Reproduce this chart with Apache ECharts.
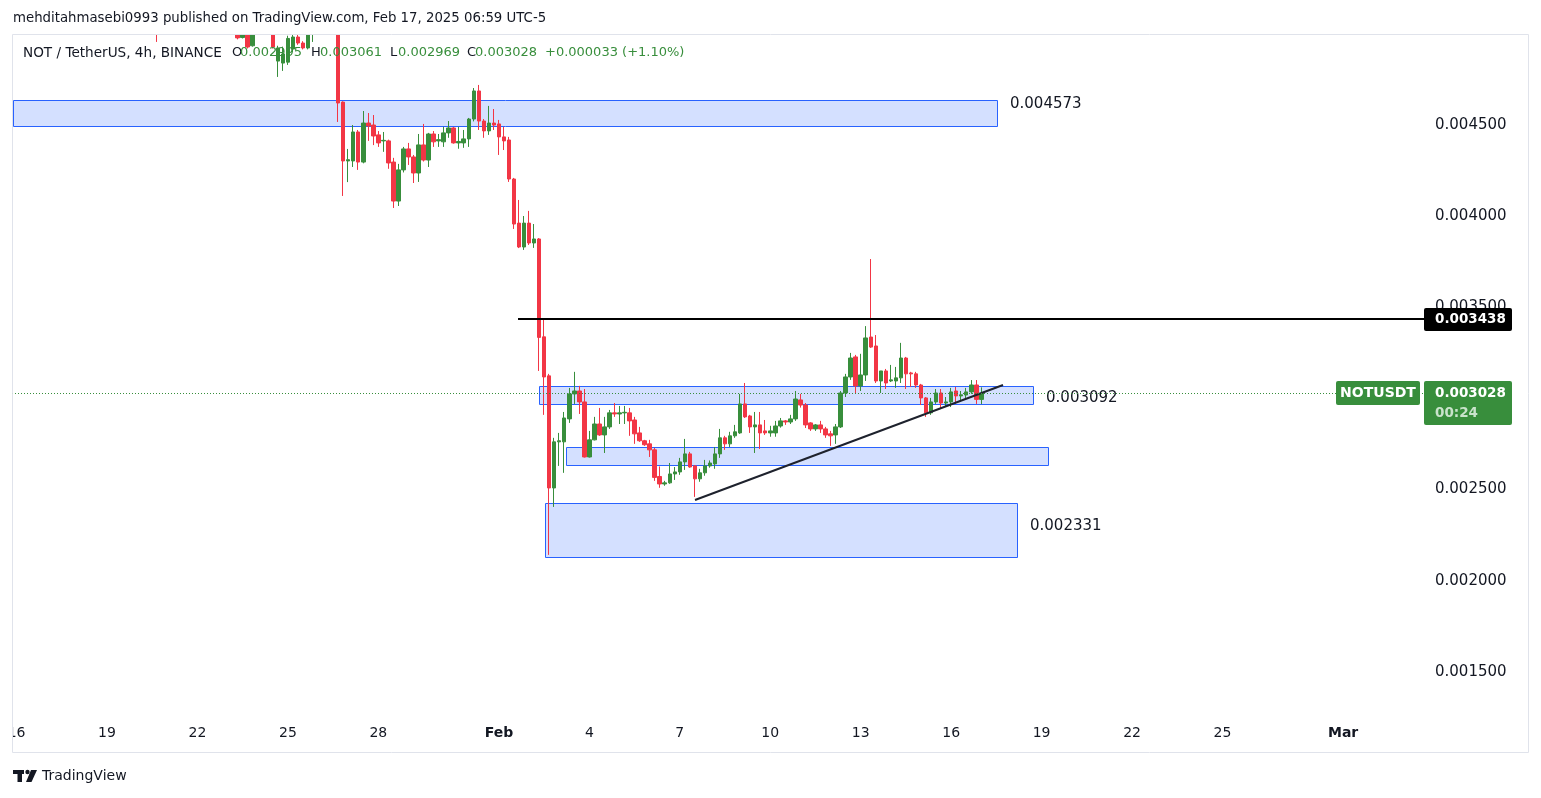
<!DOCTYPE html>
<html>
<head>
<meta charset="utf-8">
<title>NOT / TetherUS 4h</title>
<script src="https://cdn.jsdelivr.net/npm/echarts@6.0.0/dist/echarts.min.js"></script>
<style>
html,body{margin:0;padding:0;background:#ffffff;}
#chart{width:1541px;height:798px;}
</style>
</head>
<body>
<div id="chart"></div>
<script>
// ---------- time scale (4h slots) ----------
const axisStartTime = '2025-01-15 20:00';
const slotCount = 282;
const barHours = 4;

// ---------- tick labels ----------
const xTickDates = ['2025-01-16','2025-01-19','2025-01-22','2025-01-25','2025-01-28','2025-02-01','2025-02-04','2025-02-07','2025-02-10','2025-02-13','2025-02-16','2025-02-19','2025-02-22','2025-02-25','2025-03-01'];
const xTickLabels = ['16','19','22','25','28','Feb','4','7','10','13','16','19','22','25','Mar'];
const yTickValues = [0.0015, 0.002, 0.0025, 0.003, 0.0035, 0.004, 0.0045];
const yMin = 0.001258;
const yMax = 0.004994;

// ---------- candles (NOTUSDT, 4h) ----------
const candleStart = '2025-01-20 16:00';
const open = [
  0.005150, null,null,null,null,null,null,null,null,null,null,null,null,null,null,null,
  0.005060, 0.004980, 0.005040, 0.004935, null,null,null,
  0.005040, 0.004851, 0.004840, 0.004845, 0.004917, 0.004983, 0.004950, 0.004923, 0.005010, null,null,null,null,
  0.005030, 0.004626, 0.004303, 0.004303, 0.004462, 0.004297, 0.004511, 0.004500, 0.004446, 0.004413,
  0.004413, 0.004297, 0.004083, 0.004254, 0.004369, 0.004325, 0.004237, 0.004391, 0.004308, 0.004451,
  0.004413, 0.004408, 0.004457, 0.004484, 0.004402, 0.004402, 0.004424, 0.004533, 0.004687, 0.004522,
  0.004468, 0.004511, 0.004506, 0.004435, 0.004418, 0.004204, 0.003962, 0.003831, 0.003962, 0.003853,
  0.003875, 0.003338, 0.003124, 0.002509, 0.002762, 0.002762, 0.002888, 0.003025, 0.003041, 0.002981,
  0.002679, 0.002773, 0.002860, 0.002800, 0.002844, 0.002921, 0.002915, 0.002921, 0.002921, 0.002882,
  0.002811, 0.002768, 0.002751, 0.002718, 0.002572, 0.002531, 0.002537, 0.002586, 0.002597, 0.002652,
  0.002696, 0.002630, 0.002559, 0.002592, 0.002630, 0.002641, 0.002696, 0.002784, 0.002751, 0.002795,
  0.002811, 0.002970, 0.002904, 0.002844, 0.002855, 0.002822, 0.002811, 0.002811, 0.002849, 0.002877,
  0.002871, 0.002888, 0.002992, 0.002964, 0.002866, 0.002833, 0.002855, 0.002833, 0.002806, 0.002800,
  0.002844, 0.003030, 0.003118, 0.003228, 0.003069, 0.003129, 0.003337, 0.003288, 0.003096, 0.003151,
  0.003096, 0.003096, 0.003113, 0.003222, 0.003140, 0.003135, 0.003074, 0.003003, 0.002921, 0.002981,
  0.003030, 0.002975, 0.002981, 0.003041, 0.003014, 0.003019, 0.003036, 0.003074, 0.002995
];
const high = [
  0.005200, null,null,null,null,null,null,null,null,null,null,null,null,null,null,null,
  0.005080, 0.005060, 0.005060, 0.005060, null,null,null,
  0.005060, 0.004935, 0.004930, 0.004990, 0.005000, 0.005000, 0.004960, 0.005030, 0.005060, null,null,null,null,
  0.005040, 0.004630, 0.004369, 0.004500, 0.004473, 0.004577, 0.004566, 0.004555, 0.004467, 0.004462,
  0.004420, 0.004320, 0.004287, 0.004380, 0.004402, 0.004336, 0.004451, 0.004506, 0.004457, 0.004467,
  0.004451, 0.004490, 0.004522, 0.004490, 0.004490, 0.004473, 0.004539, 0.004703, 0.004720, 0.004533,
  0.004605, 0.004588, 0.004528, 0.004490, 0.004435, 0.004210, 0.004089, 0.004001, 0.004029, 0.003957,
  0.003880, 0.003436, 0.003135, 0.002784, 0.002811, 0.002926, 0.003058, 0.003146, 0.003069, 0.003052,
  0.002822, 0.002899, 0.002948, 0.002899, 0.002937, 0.002975, 0.002959, 0.002959, 0.002948, 0.002899,
  0.002844, 0.002773, 0.002773, 0.002729, 0.002627, 0.002548, 0.002646, 0.002624, 0.002674, 0.002778,
  0.002707, 0.002635, 0.002614, 0.002663, 0.002660, 0.002734, 0.002833, 0.002795, 0.002817, 0.002855,
  0.003025, 0.003085, 0.002910, 0.002926, 0.002926, 0.002882, 0.002850, 0.002877, 0.002893, 0.002882,
  0.002910, 0.003041, 0.003025, 0.002975, 0.002870, 0.002860, 0.002877, 0.002844, 0.002822, 0.002860,
  0.003041, 0.003135, 0.003250, 0.003239, 0.003245, 0.003397, 0.003765, 0.003348, 0.003151, 0.003162,
  0.003184, 0.003173, 0.003305, 0.003228, 0.003146, 0.003146, 0.003080, 0.003008, 0.003003, 0.003052,
  0.003052, 0.003008, 0.003058, 0.003063, 0.003041, 0.003058, 0.003101, 0.003101, 0.003061
];
const low = [
  0.004956, null,null,null,null,null,null,null,null,null,null,null,null,null,null,null,
  0.004970, 0.004975, 0.004920, 0.004930, null,null,null,
  0.004920, 0.004764, 0.004797, 0.004830, 0.004900, 0.004940, 0.004915, 0.004915, 0.004956, null,null,null,null,
  0.004517, 0.004111, 0.004187, 0.004270, 0.004254, 0.004290, 0.004413, 0.004390, 0.004380, 0.004353,
  0.004260, 0.004045, 0.004056, 0.004240, 0.004281, 0.004182, 0.004188, 0.004300, 0.004270, 0.004380,
  0.004380, 0.004380, 0.004430, 0.004398, 0.004370, 0.004375, 0.004380, 0.004520, 0.004473, 0.004430,
  0.004446, 0.004473, 0.004336, 0.004363, 0.004188, 0.003930, 0.003825, 0.003815, 0.003842, 0.003826,
  0.003151, 0.002910, 0.002142, 0.002405, 0.002630, 0.002592, 0.002866, 0.002970, 0.002915, 0.002676,
  0.002676, 0.002770, 0.002795, 0.002701, 0.002833, 0.002899, 0.002860, 0.002860, 0.002795, 0.002751,
  0.002762, 0.002740, 0.002679, 0.002548, 0.002510, 0.002521, 0.002532, 0.002553, 0.002581, 0.002608,
  0.002620, 0.002460, 0.002543, 0.002576, 0.002620, 0.002614, 0.002674, 0.002718, 0.002734, 0.002784,
  0.002806, 0.002893, 0.002811, 0.002701, 0.002723, 0.002800, 0.002790, 0.002790, 0.002840, 0.002855,
  0.002860, 0.002877, 0.002950, 0.002838, 0.002822, 0.002822, 0.002811, 0.002784, 0.002740, 0.002751,
  0.002838, 0.003008, 0.003102, 0.003025, 0.003041, 0.003096, 0.003277, 0.003085, 0.003030, 0.003052,
  0.003090, 0.003058, 0.003085, 0.003052, 0.003063, 0.003058, 0.002964, 0.002899, 0.002910, 0.002970,
  0.002943, 0.002953, 0.002953, 0.002970, 0.002981, 0.002992, 0.003025, 0.002970, 0.002969
];
const close = [
  0.005010, null,null,null,null,null,null,null,null,null,null,null,null,null,null,null,
  0.004978, 0.005040, 0.004928, 0.005030, null,null,null,
  0.004928, 0.004923, 0.004890, 0.004975, 0.004983, 0.004950, 0.004923, 0.005000, 0.005040, null,null,null,null,
  0.004621, 0.004303, 0.004310, 0.004462, 0.004297, 0.004511, 0.004495, 0.004440, 0.004402, 0.004416,
  0.004292, 0.004083, 0.004254, 0.004369, 0.004325, 0.004237, 0.004391, 0.004308, 0.004451, 0.004408,
  0.004420, 0.004457, 0.004484, 0.004402, 0.004410, 0.004424, 0.004533, 0.004687, 0.004522, 0.004468,
  0.004511, 0.004500, 0.004435, 0.004413, 0.004204, 0.003957, 0.003831, 0.003962, 0.003853, 0.003875,
  0.003335, 0.003118, 0.002509, 0.002762, 0.002768, 0.002893, 0.003025, 0.003041, 0.002981, 0.002679,
  0.002773, 0.002860, 0.002800, 0.002844, 0.002921, 0.002915, 0.002921, 0.002924, 0.002877, 0.002806,
  0.002768, 0.002746, 0.002718, 0.002567, 0.002531, 0.002537, 0.002586, 0.002597, 0.002652, 0.002696,
  0.002624, 0.002559, 0.002592, 0.002630, 0.002646, 0.002696, 0.002784, 0.002751, 0.002795, 0.002817,
  0.002970, 0.002899, 0.002844, 0.002855, 0.002811, 0.002811, 0.002822, 0.002849, 0.002877, 0.002871,
  0.002888, 0.002997, 0.002964, 0.002855, 0.002833, 0.002855, 0.002833, 0.002800, 0.002795, 0.002844,
  0.003030, 0.003118, 0.003222, 0.003069, 0.003129, 0.003332, 0.003282, 0.003096, 0.003151, 0.003085,
  0.003102, 0.003113, 0.003222, 0.003135, 0.003135, 0.003074, 0.003003, 0.002921, 0.002981, 0.003030,
  0.002975, 0.002981, 0.003036, 0.003014, 0.003020, 0.003036, 0.003074, 0.002995, 0.003028
];

// ---------- drawings ----------
const zoneFrom   = ['2025-01-15 00:00', '2025-02-02 07:54', '2025-02-03 05:24', '2025-02-02 12:42'];
const zoneTo     = ['2025-02-17 12:30', '2025-02-18 17:12', '2025-02-19 05:06', '2025-02-18 04:24'];
const zoneTop    = [0.004637, 0.003069, 0.002734, 0.002427];
const zoneBottom = [0.004495, 0.002970, 0.002635, 0.002131];
const zoneLabel  = ['0.004573', '0.003092', '', '0.002331'];
const zoneLabelAt = [0.004616, 0.003003, null, 0.002301];

const levelPrice = 0.003438;
const levelFrom = '2025-02-01 15:12';
const trendFrom = ['2025-02-07 12:06', 0.002443];
const trendTo   = ['2025-02-17 17:18', 0.003074];

const symbolName = 'NOTUSDT';
const countdown = '00:24';

// ---------- helpers ----------
const FONT = 'DejaVu Sans';
const GREEN = '#388e3c', RED = '#f23645', INK = '#131722';
function parseT(s) {
  const parts = s.split(' ');
  const d = parts[0].split('-').map(Number);
  const t = (parts[1] || '00:00').split(':').map(Number);
  return Date.UTC(d[0], d[1] - 1, d[2], t[0], t[1]);
}
const HOUR = 3600 * 1000;
const t0 = parseT(axisStartTime);
function toV(s) { return (parseT(s) - t0) / (barHours * HOUR) + 0.5; }
function pad(n) { return (n < 10 ? '0' : '') + n; }
function fmt(d) {
  return d.getUTCFullYear() + '-' + pad(d.getUTCMonth() + 1) + '-' + pad(d.getUTCDate()) + ' ' + pad(d.getUTCHours()) + ':' + pad(d.getUTCMinutes());
}
const categories = [];
for (let i = 0; i < slotCount; i++) categories.push(fmt(new Date(t0 + i * barHours * HOUR)));

const tickMap = {};
xTickDates.forEach((d, i) => { tickMap[d + ' 00:00'] = xTickLabels[i]; });

const candleData = categories.map(() => '-');
const startIdx = Math.round(toV(candleStart) - 0.5);
for (let j = 0; j < open.length; j++) {
  if (open[j] != null) candleData[startIdx + j] = [open[j], close[j], low[j], high[j]];
}
const last = open.length - 1;
const lastClose = close[last];
const prevClose = close[last - 1];

const zoneData = zoneFrom.map((f, i) => [toV(f), toV(zoneTo[i]), zoneTop[i], zoneBottom[i]]);
const lineData = [
  [toV(levelFrom), levelPrice, slotCount, levelPrice],
  [toV(trendFrom[0]), trendFrom[1], toV(trendTo[0]), trendTo[1]],
  [0, lastClose, slotCount, lastClose]
];
const lineStyles = [
  { stroke: '#000000', lineWidth: 2 },
  { stroke: '#1e222d', lineWidth: 2 },
  { stroke: GREEN, lineWidth: 1, lineDash: [1, 2] }
];

const chart = echarts.init(document.getElementById('chart'), null, { renderer: 'canvas' });

chart.setOption({
  animation: false,
  backgroundColor: '#ffffff',
  grid: { left: 9, right: 115, top: 35, bottom: 82, containLabel: false },
  xAxis: [
    {
      type: 'category', data: categories, boundaryGap: true,
      axisLine: { show: false }, axisTick: { show: false }, splitLine: { show: false },
      axisLabel: {
        interval: (idx, val) => tickMap[val] !== undefined,
        formatter: (val) => {
          const l = tickMap[val] || '';
          return /^[A-Za-z]/.test(l) ? '{b|' + l + '}' : l;
        },
        color: INK, fontSize: 14, fontFamily: FONT, margin: 10,
        rich: { b: { fontWeight: 'bold', fontSize: 14, fontFamily: FONT, color: INK } }
      }
    },
    { type: 'value', min: 0, max: slotCount, show: false }
  ],
  yAxis: {
    type: 'value', position: 'right', min: yMin, max: yMax, scale: true,
    axisLine: { show: false }, axisTick: { show: false }, splitLine: { show: false },
    axisLabel: {
      customValues: yTickValues,
      formatter: (v) => yTickValues.some(t => Math.abs(t - v) < 1e-9) ? v.toFixed(6) : '',
      color: INK, fontSize: 15, fontFamily: FONT, margin: 9, align: 'left'
    }
  },
  series: [
    {
      type: 'custom', name: 'zones', xAxisIndex: 1, yAxisIndex: 0, z: 1, silent: true, clip: true,
      data: zoneData,
      renderItem: (params, api) => {
        const i = params.dataIndex;
        const cs = params.coordSys;
        const p0 = api.coord([api.value(0), api.value(2)]);
        const p1 = api.coord([api.value(1), api.value(3)]);
        const x0 = Math.max(p0[0], cs.x + 4), x1 = Math.min(p1[0], cs.x + cs.width);
        const y0 = Math.round(p0[1]) + 0.5, y1 = Math.round(p1[1]) + 0.5;
        const children = [{
          type: 'rect',
          shape: { x: Math.round(x0) + 0.5, y: y0, width: Math.round(x1 - x0), height: y1 - y0 },
          style: { fill: 'rgba(41,98,255,0.2)', stroke: '#2962ff', lineWidth: 1 }
        }];
        if (zoneLabel[i]) {
          const ly = api.coord([0, zoneLabelAt[i]])[1];
          children.push({
            type: 'text',
            style: { text: zoneLabel[i], x: p1[0] + 13, y: ly, verticalAlign: 'middle', align: 'left', fill: INK, font: '15px "' + FONT + '"' }
          });
        }
        return { type: 'group', children };
      }
    },
    {
      type: 'candlestick', name: symbolName, xAxisIndex: 0, yAxisIndex: 0, z: 2,
      data: candleData, barWidth: 4,
      itemStyle: { color: GREEN, color0: RED, borderColor: GREEN, borderColor0: RED, borderWidth: 1 }
    },
    {
      type: 'custom', name: 'lines', xAxisIndex: 1, yAxisIndex: 0, z: 5, silent: true, clip: true,
      data: lineData,
      renderItem: (params, api) => {
        const a = api.coord([api.value(0), api.value(1)]);
        const b = api.coord([api.value(2), api.value(3)]);
        const s = lineStyles[params.dataIndex];
        const off = s.lineWidth === 1 ? 0.5 : 0;
        const ya = a[1] === b[1] ? Math.round(a[1]) + off : a[1];
        const yb = a[1] === b[1] ? Math.round(b[1]) + off : b[1];
        return { type: 'line', shape: { x1: a[0], y1: ya, x2: b[0], y2: yb }, style: Object.assign({ fill: null }, s) };
      }
    }
  ]
});

// ---------- overlays: header, legend, price tags, frame, logo ----------
const yOf = (p) => chart.convertToPixel({ yAxisIndex: 0 }, p);
const levelY = Math.round(yOf(levelPrice));
const lastY = Math.round(yOf(lastClose));
const chg = lastClose - prevClose;
const sign = chg >= 0 ? '+' : '-';
const chgText = sign + Math.abs(chg).toFixed(6) + ' (' + sign + (Math.abs(chg) / prevClose * 100).toFixed(2) + '%)';
const legFont = '13px "' + FONT + '"';

const g = [];
// masks outside the plotting frame
g.push({ type: 'rect', z: 40, silent: true, shape: { x: 0, y: 0, width: 1541, height: 34 }, style: { fill: '#ffffff' } });
g.push({ type: 'rect', z: 40, silent: true, shape: { x: 0, y: 34, width: 12.5, height: 730 }, style: { fill: '#ffffff' } });
g.push({ type: 'rect', z: 51, silent: true, shape: { x: 12.5, y: 34.5, width: 1516, height: 718 }, style: { fill: null, stroke: '#e0e3eb', lineWidth: 1 } });
g.push({ type: 'text', z: 60, x: 13, y: 19, style: { text: 'mehditahmasebi0993 published on TradingView.com, Feb 17, 2025 06:59 UTC-5', font: '13.3px "' + FONT + '"', fill: INK, verticalAlign: 'middle' } });
const legendParts = [
  [23, 'NOT / TetherUS, 4h, BINANCE', INK, '13.6px "' + FONT + '"'],
  [232, 'O', INK, legFont], [240, open[last].toFixed(6), GREEN, legFont],
  [311, 'H', INK, legFont], [320, high[last].toFixed(6), GREEN, legFont],
  [390, 'L', INK, legFont], [398, low[last].toFixed(6), GREEN, legFont],
  [467, 'C', INK, legFont], [475, close[last].toFixed(6), GREEN, legFont],
  [545, chgText, GREEN, legFont]
];
legendParts.forEach(p => g.push({ type: 'text', z: 60, x: p[0], y: 53, style: { text: p[1], font: p[3], fill: p[2], verticalAlign: 'middle' } }));

// level tag
g.push({ type: 'rect', z: 60, shape: { x: 1424, y: levelY - 11, width: 88, height: 23, r: 2 }, style: { fill: '#000000' } });
g.push({ type: 'text', z: 61, x: 1435, y: levelY + 0.5, style: { text: levelPrice.toFixed(6), font: 'bold 13.5px "' + FONT + '"', fill: '#ffffff', verticalAlign: 'middle' } });
// symbol tag
g.push({ type: 'rect', z: 60, shape: { x: 1336, y: lastY - 12, width: 84, height: 24, r: 2 }, style: { fill: GREEN } });
g.push({ type: 'text', z: 61, x: 1378, y: lastY, style: { text: symbolName, font: 'bold 14px "' + FONT + '"', fill: '#ffffff', align: 'center', verticalAlign: 'middle' } });
// last price tag
g.push({ type: 'rect', z: 60, shape: { x: 1424, y: lastY - 12, width: 88, height: 44, r: 2 }, style: { fill: GREEN } });
g.push({ type: 'text', z: 61, x: 1435, y: lastY, style: { text: lastClose.toFixed(6), font: 'bold 13.5px "' + FONT + '"', fill: '#ffffff', verticalAlign: 'middle' } });
g.push({ type: 'text', z: 61, x: 1435, y: lastY + 20, style: { text: countdown, font: 'bold 13.5px "' + FONT + '"', fill: '#c9e3cb', verticalAlign: 'middle' } });

// TradingView logo
g.push({ type: 'rect', z: 60, shape: { x: 13, y: 770, width: 11, height: 4 }, style: { fill: INK } });
g.push({ type: 'rect', z: 60, shape: { x: 17.5, y: 770, width: 4.5, height: 12 }, style: { fill: INK } });
g.push({ type: 'circle', z: 60, shape: { cx: 27.5, cy: 772, r: 2.2 }, style: { fill: INK } });
g.push({ type: 'polygon', z: 60, shape: { points: [[31, 770], [37, 770], [31.5, 782], [26, 782]] }, style: { fill: INK } });
g.push({ type: 'text', z: 60, x: 42, y: 776, style: { text: 'TradingView', font: '14px "' + FONT + '"', fill: INK, verticalAlign: 'middle' } });

chart.setOption({ graphic: g });
</script>
</body>
</html>
